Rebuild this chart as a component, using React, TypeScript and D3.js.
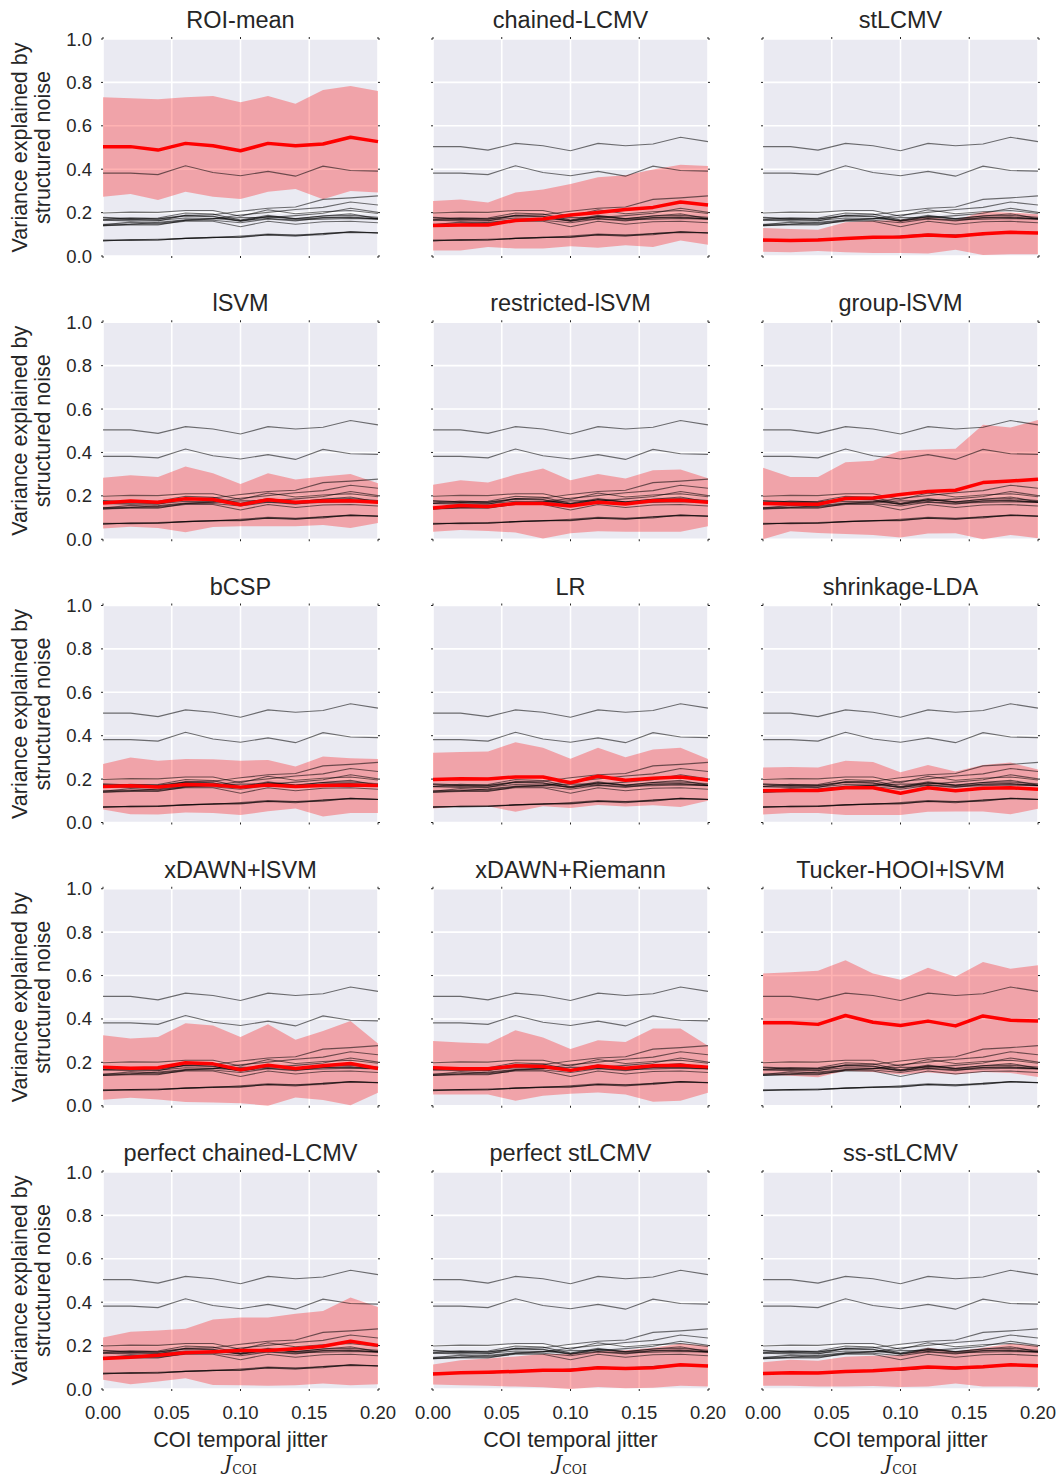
import * as d3 from 'd3';

// COI temporal jitter (x values)
const jitter = [0, 0.02, 0.04, 0.06, 0.08, 0.1, 0.12, 0.14, 0.16, 0.18, 0.2];
const xTicks = [0, 0.05, 0.1, 0.15, 0.2];
const yTicks = [0, 0.2, 0.4, 0.6, 0.8, 1.0];

const titles = [
  'ROI-mean', 'chained-LCMV', 'stLCMV',
  'lSVM', 'restricted-lSVM', 'group-lSVM',
  'bCSP', 'LR', 'shrinkage-LDA',
  'xDAWN+lSVM', 'xDAWN+Riemann', 'Tucker-HOOI+lSVM',
  'perfect chained-LCMV', 'perfect stLCMV', 'ss-stLCMV',
];

// mean / lower / upper of variance explained, per method
const mRoi = [0.504, 0.504, 0.488, 0.519, 0.508, 0.485, 0.519, 0.508, 0.516, 0.547, 0.527];
const loRoi = [0.273, 0.286, 0.258, 0.296, 0.273, 0.263, 0.296, 0.309, 0.261, 0.3, 0.293];
const hiRoi = [0.731, 0.727, 0.722, 0.731, 0.737, 0.708, 0.737, 0.702, 0.765, 0.783, 0.76];

const mChained = [0.14, 0.143, 0.143, 0.164, 0.171, 0.189, 0.201, 0.214, 0.224, 0.249, 0.235];
const loChained = [0.025, 0.025, 0.041, 0.035, 0.034, 0.045, 0.038, 0.049, 0.041, 0.071, 0.052];
const hiChained = [0.253, 0.26, 0.246, 0.293, 0.307, 0.332, 0.363, 0.372, 0.399, 0.421, 0.415];

const mSt = [0.074, 0.072, 0.074, 0.081, 0.086, 0.088, 0.097, 0.091, 0.103, 0.109, 0.106];
const loSt = [0.02, 0.017, 0.023, 0.017, 0.014, 0.014, 0.012, 0.029, 0.005, 0.008, 0.008];
const hiSt = [0.129, 0.124, 0.121, 0.155, 0.163, 0.167, 0.18, 0.166, 0.204, 0.201, 0.192];

const mLsvm = [0.167, 0.176, 0.171, 0.187, 0.183, 0.159, 0.182, 0.17, 0.176, 0.177, 0.171];
const loLsvm = [0.049, 0.058, 0.052, 0.032, 0.057, 0.06, 0.06, 0.06, 0.066, 0.052, 0.075];
const hiLsvm = [0.283, 0.295, 0.287, 0.335, 0.304, 0.255, 0.304, 0.275, 0.289, 0.301, 0.258];

const mRestr = [0.144, 0.156, 0.151, 0.165, 0.165, 0.153, 0.171, 0.162, 0.177, 0.18, 0.171];
const loRestr = [0.034, 0.043, 0.038, 0.031, 0.003, 0.028, 0.037, 0.034, 0.034, 0.034, 0.06];
const hiRestr = [0.251, 0.272, 0.261, 0.298, 0.326, 0.272, 0.301, 0.28, 0.318, 0.321, 0.281];

const mGroup = [0.165, 0.162, 0.161, 0.188, 0.19, 0.206, 0.22, 0.226, 0.261, 0.268, 0.277];
const loGroup = [0.0, 0.037, 0.029, 0.024, 0.02, 0.008, 0.026, 0.028, 0.0, 0.02, 0.005];
const hiGroup = [0.329, 0.287, 0.287, 0.355, 0.362, 0.408, 0.414, 0.417, 0.528, 0.515, 0.55];

const mBcsp = [0.166, 0.169, 0.164, 0.175, 0.173, 0.163, 0.173, 0.166, 0.17, 0.173, 0.17];
const loBcsp = [0.06, 0.038, 0.037, 0.046, 0.044, 0.034, 0.052, 0.064, 0.028, 0.044, 0.044];
const hiBcsp = [0.27, 0.299, 0.284, 0.293, 0.291, 0.285, 0.288, 0.258, 0.304, 0.296, 0.293];

const mLr = [0.198, 0.202, 0.201, 0.21, 0.21, 0.183, 0.213, 0.195, 0.204, 0.21, 0.196];
const loLr = [0.064, 0.074, 0.075, 0.049, 0.075, 0.067, 0.081, 0.074, 0.08, 0.071, 0.1];
const hiLr = [0.321, 0.325, 0.327, 0.37, 0.344, 0.294, 0.344, 0.301, 0.336, 0.345, 0.293];

const mShrink = [0.146, 0.147, 0.147, 0.16, 0.16, 0.135, 0.16, 0.146, 0.158, 0.16, 0.153];
const loShrink = [0.037, 0.044, 0.044, 0.035, 0.035, 0.035, 0.049, 0.051, 0.051, 0.038, 0.063];
const hiShrink = [0.253, 0.256, 0.253, 0.285, 0.279, 0.232, 0.265, 0.235, 0.265, 0.276, 0.244];

const mXdLsvm = [0.178, 0.173, 0.175, 0.198, 0.193, 0.166, 0.187, 0.172, 0.184, 0.195, 0.172];
const loXdLsvm = [0.028, 0.037, 0.029, 0.017, 0.015, 0.012, 0.0, 0.038, 0.026, 0.002, 0.06];
const hiXdLsvm = [0.325, 0.31, 0.317, 0.38, 0.37, 0.317, 0.376, 0.304, 0.345, 0.391, 0.287];

const mXdRiem = [0.175, 0.17, 0.17, 0.184, 0.181, 0.163, 0.183, 0.173, 0.184, 0.187, 0.178];
const loXdRiem = [0.052, 0.052, 0.052, 0.023, 0.046, 0.055, 0.061, 0.052, 0.018, 0.023, 0.06];
const hiXdRiem = [0.298, 0.291, 0.287, 0.348, 0.314, 0.261, 0.302, 0.294, 0.356, 0.356, 0.276];

const mTucker = [0.382, 0.382, 0.375, 0.416, 0.385, 0.37, 0.39, 0.368, 0.414, 0.394, 0.391];
const loTucker = [0.144, 0.138, 0.131, 0.161, 0.156, 0.144, 0.153, 0.144, 0.156, 0.151, 0.133];
const hiTucker = [0.61, 0.615, 0.622, 0.67, 0.61, 0.581, 0.636, 0.595, 0.662, 0.631, 0.648];

const mPChained = [0.14, 0.146, 0.155, 0.167, 0.172, 0.177, 0.177, 0.186, 0.197, 0.22, 0.201];
const loPChained = [0.043, 0.022, 0.035, 0.049, 0.018, 0.017, 0.015, 0.017, 0.025, 0.017, 0.022];
const hiPChained = [0.237, 0.264, 0.27, 0.278, 0.32, 0.33, 0.329, 0.347, 0.359, 0.422, 0.378];

const mPSt = [0.069, 0.075, 0.077, 0.081, 0.086, 0.086, 0.098, 0.095, 0.098, 0.112, 0.106];
const loPSt = [0.021, 0.017, 0.015, 0.011, 0.008, 0.0, 0.009, 0.003, 0.006, 0.015, 0.012];
const hiPSt = [0.113, 0.133, 0.141, 0.15, 0.161, 0.161, 0.175, 0.179, 0.19, 0.21, 0.199];

const mSsSt = [0.071, 0.075, 0.074, 0.081, 0.084, 0.092, 0.101, 0.097, 0.103, 0.112, 0.107];
const loSsSt = [0.015, 0.015, 0.012, 0.011, 0.014, 0.009, 0.012, 0.025, 0.011, 0.012, 0.009];
const hiSsSt = [0.123, 0.135, 0.13, 0.149, 0.153, 0.156, 0.19, 0.173, 0.19, 0.209, 0.199];

const means = [mRoi, mChained, mSt, mLsvm, mRestr, mGroup, mBcsp, mLr, mShrink, mXdLsvm, mXdRiem, mTucker, mPChained, mPSt, mSsSt];
const lows = [loRoi, loChained, loSt, loLsvm, loRestr, loGroup, loBcsp, loLr, loShrink, loXdLsvm, loXdRiem, loTucker, loPChained, loPSt, loSsSt];
const highs = [hiRoi, hiChained, hiSt, hiLsvm, hiRestr, hiGroup, hiBcsp, hiLr, hiShrink, hiXdLsvm, hiXdRiem, hiTucker, hiPChained, hiPSt, hiSsSt];

const W = 1061;
const H = 1479;
const panelW = 275;
const panelH = 217;
const colLeft = [103, 433, 763];
const rowTop = [39, 322.25, 605.5, 888.75, 1172];
const font = '"Liberation Sans", Arial, sans-serif';
const ink = '#262626';

function Panel({ idx }: { idx: number }) {
  const col = idx % 3;
  const row = Math.floor(idx / 3);
  const left = colLeft[col];
  const top = rowTop[row];
  const x = d3.scaleLinear().domain([0, 0.2]).range([left, left + panelW]);
  const y = d3.scaleLinear().domain([0, 1]).range([top + panelH, top]);

  const line = d3.line<number>().x((_, i) => x(jitter[i])).y((d) => y(d));
  const area = d3.area<number>()
    .x((_, i) => x(jitter[i]))
    .y0((_, i) => y(lows[idx][i]))
    .y1((d) => y(d));

  const cx = left + panelW / 2;
  return (
    <g>
      <rect x={left} y={top} width={panelW} height={panelH} fill="#EAEAF2" />
      {yTicks.map((t) => (
        <line key={'gy' + t} x1={left} x2={left + panelW} y1={y(t)} y2={y(t)} stroke="#fff" strokeWidth={1.6} />
      ))}
      {xTicks.map((t) => (
        <line key={'gx' + t} x1={x(t)} x2={x(t)} y1={top} y2={top + panelH} stroke="#fff" strokeWidth={1.6} />
      ))}
      {/* little tick marks on all sides */}
      {yTicks.map((t) => (
        <g key={'ty' + t}>
          <line x1={left - 2} x2={left} y1={y(t)} y2={y(t)} stroke={ink} strokeWidth={1} />
          <line x1={left + panelW} x2={left + panelW + 2} y1={y(t)} y2={y(t)} stroke={ink} strokeWidth={1} />
        </g>
      ))}
      {xTicks.map((t) => (
        <g key={'tx' + t}>
          <line x1={x(t)} x2={x(t)} y1={top - 2} y2={top} stroke={ink} strokeWidth={1} />
          <line x1={x(t)} x2={x(t)} y1={top + panelH} y2={top + panelH + 2} stroke={ink} strokeWidth={1} />
        </g>
      ))}

      <path d={area(highs[idx]) as string} fill="red" fillOpacity={0.3} />
      {means.map((m, j) =>
        j === idx ? null : (
          <path key={'m' + j} d={line(m) as string} fill="none" stroke="#000" strokeOpacity={0.55} strokeWidth={1.1} />
        )
      )}
      <path d={line(means[idx]) as string} fill="none" stroke="#ff0000" strokeWidth={3.5} strokeLinejoin="round" />

      <text x={cx} y={top - 11} textAnchor="middle" fontSize={23.5} fill={ink} fontFamily={font}>
        {titles[idx]}
      </text>

      {col === 0 &&
        yTicks.map((t) => (
          <text key={'ly' + t} x={left - 11} y={y(t) + 6.5} textAnchor="end" fontSize={18.5} fill={ink} fontFamily={font}>
            {d3.format('.1f')(t)}
          </text>
        ))}
      {col === 0 && (
        <text transform={`translate(0, ${top + panelH / 2}) rotate(-90)`} textAnchor="middle" fontSize={21.5} fill={ink} fontFamily={font}>
          <tspan x={0} y={27}>Variance explained by</tspan>
          <tspan x={0} y={49.5}>structured noise</tspan>
        </text>
      )}
      {row === 4 &&
        xTicks.map((t) => (
          <text key={'lx' + t} x={x(t)} y={top + panelH + 30} textAnchor="middle" fontSize={18.5} fill={ink} fontFamily={font}>
            {d3.format('.2f')(t)}
          </text>
        ))}
      {row === 4 && (
        <>
          <text x={cx} y={top + panelH + 58} textAnchor="middle" fontSize={21.5} fill={ink} fontFamily={font}>
            COI temporal jitter
          </text>
          <text x={cx} y={top + panelH + 81} textAnchor="middle" fill={ink} fontFamily='"DejaVu Serif", "Liberation Serif", serif'>
            <tspan fontStyle="italic" fontSize={20}>J</tspan>
            <tspan fontSize={12.5} dy={4}>COI</tspan>
          </text>
        </>
      )}
    </g>
  );
}

export default function App() {
  return (
    <svg width={W} height={H} style={{ position: 'absolute', left: 0, top: 0, background: '#fff' }}>
      {titles.map((_, i) => (
        <Panel key={i} idx={i} />
      ))}
    </svg>
  );
}
